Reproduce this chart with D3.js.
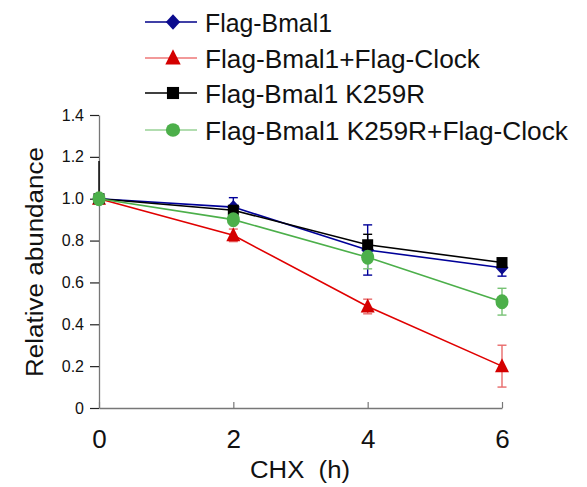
<!DOCTYPE html>
<html>
<head>
<meta charset="utf-8">
<script src="https://cdn.jsdelivr.net/npm/d3@7"></script>
<style>
  body { margin: 0; background: #fff; }
  text { font-family: "Liberation Sans", Arial, sans-serif; }
</style>
</head>
<body>
<svg id="chart" width="587" height="487"></svg>
<script>
const hours = [0, 2, 4, 6];
const yTicks = [0, 0.2, 0.4, 0.6, 0.8, 1.0, 1.2, 1.4];

const bmal1 = [1.0, 0.96, 0.755, 0.67];
const bmal1Err = [0.0, 0.045, 0.12, 0.04];
const bmal1Clock = [1.0, 0.825, 0.485, 0.2];
const bmal1ClockErr = [0.0, 0.03, 0.035, 0.1];
const k259r = [1.0, 0.945, 0.78, 0.695];
const k259rErr = [0.18, 0.0, 0.05, 0.0];
const k259rClock = [1.0, 0.9, 0.72, 0.508];
const k259rClockErr = [0.0, 0.0, 0.055, 0.064];

const seriesNames = ["Flag-Bmal1", "Flag-Bmal1+Flag-Clock", "Flag-Bmal1 K259R", "Flag-Bmal1 K259R+Flag-Clock"];

const series = [
  { name: seriesNames[0], values: bmal1, err: bmal1Err, color: "#000099", fill: "#0b0b8e", errColor: "#000099", legendLine: "#000088", shape: "diamond" },
  { name: seriesNames[1], values: bmal1Clock, err: bmal1ClockErr, color: "#e00000", fill: "#d40000", errColor: "#e86a6a", legendLine: "#ee7777", shape: "triangle" },
  { name: seriesNames[2], values: k259r, err: k259rErr, color: "#000000", fill: "#000000", errColor: "#000000", legendLine: "#000000", shape: "square" },
  { name: seriesNames[3], values: k259rClock, err: k259rClockErr, color: "#4caf4a", fill: "#4caf4a", errColor: "#77c274", legendLine: "#99d296", shape: "circle" }
];

// layout: rendered widths of the legend labels
const legendY = [22, 58, 93, 130];
const legendTextWidth = [127, 275, 220, 363];

const svg = d3.select("#chart");
const x = d3.scaleLinear().domain([0, 6]).range([99, 502]);
const y = d3.scaleLinear().domain([0, 1.4]).range([408, 115]);
const axisColor = "#777";

// y axis
const yAxis = svg.append("g")
  .attr("transform", `translate(${x(0)},0)`)
  .call(d3.axisLeft(y).tickValues(yTicks).tickSize(9).tickSizeOuter(0)
    .tickFormat(d => d === 0 ? "0" : d3.format(".1f")(d)));
yAxis.select(".domain").attr("stroke", axisColor).attr("stroke-width", 1.3);
yAxis.selectAll(".tick line").attr("stroke", "#222").attr("stroke-width", 1.2);
yAxis.selectAll(".tick text").attr("font-size", "16px").attr("fill", "#111")
  .attr("x", -15).style("font-family", "Liberation Sans, Arial, sans-serif");

// x axis
const xAxis = svg.append("g")
  .attr("transform", `translate(0,${y(0)})`)
  .call(d3.axisBottom(x).tickValues(hours).tickSize(-6).tickSizeOuter(0).tickFormat(d3.format("d")));
xAxis.select(".domain").attr("stroke", axisColor).attr("stroke-width", 1.3);
xAxis.selectAll(".tick line").attr("stroke", axisColor).attr("stroke-width", 1.2);
xAxis.selectAll(".tick text").attr("font-size", "26px").attr("fill", "#111")
  .attr("y", 40).attr("dy", 0).style("font-family", "Liberation Sans, Arial, sans-serif");

svg.append("text")
  .attr("x", 250).attr("y", 478)
  .attr("font-size", "23px").attr("fill", "#111")
  .style("white-space", "pre")
  .attr("textLength", 100).attr("lengthAdjust", "spacingAndGlyphs")
  .text("CHX  (h)");

svg.append("text")
  .attr("transform", `translate(43,262) rotate(-90)`)
  .attr("x", -115)
  .attr("font-size", "23px").attr("fill", "#111")
  .attr("textLength", 230).attr("lengthAdjust", "spacingAndGlyphs")
  .text("Relative abundance");

function drawMarker(g, shape, fill, legend) {
  const k = legend ? 1.1 : 1;
  if (shape === "diamond") {
    g.append("path").attr("d", `M0,${-7 * k}L${6.5 * k},0L0,${7 * k}L${-6.5 * k},0Z`).attr("fill", fill);
  } else if (shape === "triangle") {
    g.append("path").attr("d", `M0,${-8 * k}L${7 * k},${6 * k}L${-7 * k},${6 * k}Z`).attr("fill", fill);
  } else if (shape === "square") {
    const s = 11 * k;
    g.append("rect").attr("x", -s / 2).attr("y", -s / 2).attr("width", s).attr("height", s).attr("fill", fill);
  } else {
    g.append("ellipse").attr("rx", 6.5 * k).attr("ry", 7.5 * (legend ? 0.9 : 1)).attr("fill", fill);
  }
}

const line = d3.line().x((d, i) => x(hours[i])).y(d => y(d));

// error bars
series.forEach(s => {
  const g = svg.append("g").attr("stroke", s.errColor).attr("stroke-width", 1.4);
  s.values.forEach((v, i) => {
    const e = s.err[i];
    if (!e) return;
    const cx = x(hours[i]);
    if (i === 0) {
      // at time 0 only the upper whisker shows, without cap
      g.append("line").attr("x1", cx).attr("x2", cx).attr("y1", y(v)).attr("y2", y(v + e));
      return;
    }
    g.append("line").attr("x1", cx).attr("x2", cx).attr("y1", y(v - e)).attr("y2", y(v + e));
    [v - e, v + e].forEach(t => {
      g.append("line").attr("x1", cx - 4.5).attr("x2", cx + 4.5).attr("y1", y(t)).attr("y2", y(t));
    });
  });
});

// lines
series.forEach(s => {
  svg.append("path")
    .datum(s.values)
    .attr("d", line)
    .attr("fill", "none")
    .attr("stroke", s.color)
    .attr("stroke-width", 1.6);
});

// markers
series.forEach(s => {
  s.values.forEach((v, i) => {
    const g = svg.append("g").attr("transform", `translate(${x(hours[i])},${y(v)})`);
    drawMarker(g, s.shape, s.fill, false);
  });
});

// legend
series.forEach((s, i) => {
  const g = svg.append("g").attr("transform", `translate(0,${legendY[i]})`);
  g.append("line").attr("x1", 145).attr("x2", 197).attr("y1", 0).attr("y2", 0)
    .attr("stroke", s.legendLine).attr("stroke-width", 1.6);
  const m = g.append("g").attr("transform", "translate(173,0)");
  drawMarker(m, s.shape, s.fill, true);
  g.append("text").attr("x", 205).attr("y", 10)
    .attr("font-size", "25px").attr("fill", "#111")
    .attr("textLength", legendTextWidth[i]).attr("lengthAdjust", "spacingAndGlyphs")
    .text(s.name);
});
</script>
</body>
</html>
